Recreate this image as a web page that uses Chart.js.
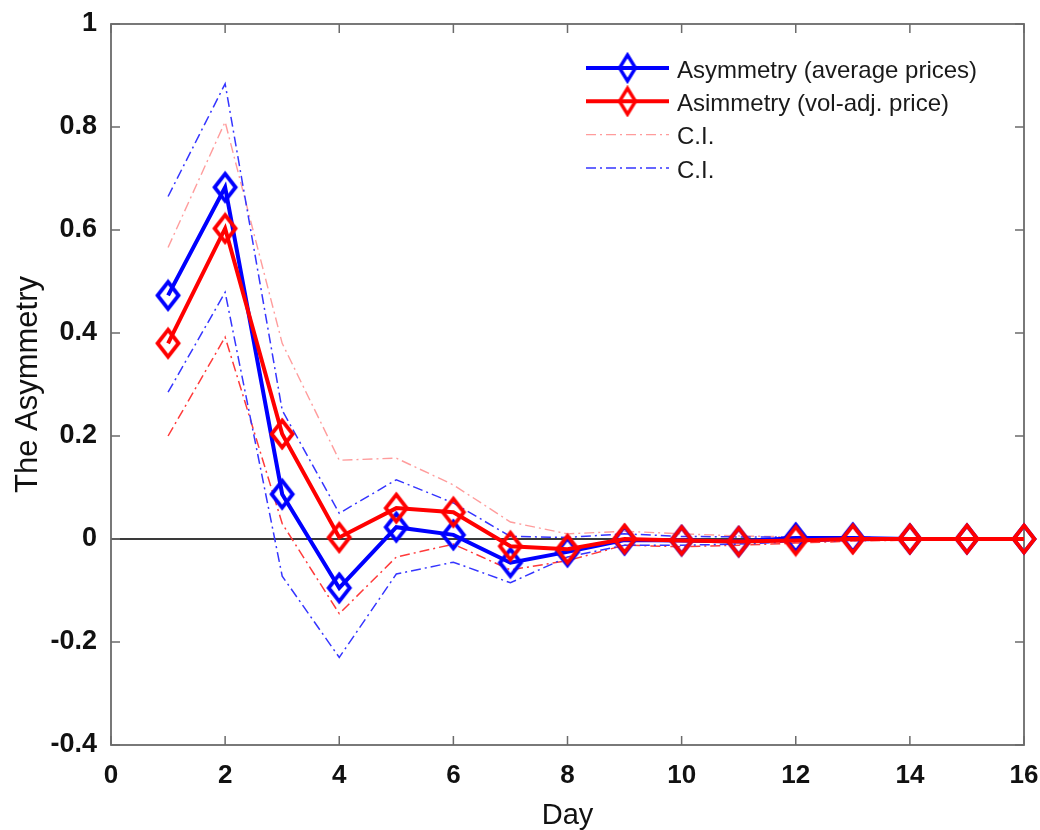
<!DOCTYPE html>
<html>
<head>
<meta charset="utf-8">
<script src="https://cdn.jsdelivr.net/npm/chart.js@4.4.1/dist/chart.umd.min.js"></script>
<style>
  body { margin: 0; background: #fff; }
  #wrap { width: 1040px; height: 830px; }
</style>
</head>
<body>
<div id="wrap"><canvas id="chart" width="1040" height="830"></canvas></div>
<script>
// Data
const days = [1, 2, 3, 4, 5, 6, 7, 8, 9, 10, 11, 12, 13, 14, 15, 16];
const asymAvg = [0.473, 0.683, 0.087, -0.095, 0.023, 0.008, -0.046, -0.025, -0.002, -0.003, -0.005, 0.002, 0.002, 0, 0, 0];
const asymVol = [0.38, 0.603, 0.204, 0.003, 0.06, 0.052, -0.014, -0.02, 0, -0.003, -0.005, -0.003, 0, 0, 0, 0];
const ciAvgUpper = [0.665, 0.884, 0.25, 0.05, 0.115, 0.07, 0.005, 0.003, 0.01, 0.005, 0.004, 0.004, 0.003, 0.002, 0.001, 0];
const ciAvgLower = [0.285, 0.479, -0.072, -0.23, -0.068, -0.045, -0.085, -0.035, -0.012, -0.012, -0.01, -0.005, -0.003, -0.002, -0.001, 0];
const ciVolUpper = [0.566, 0.81, 0.38, 0.153, 0.157, 0.105, 0.033, 0.01, 0.015, 0.01, 0.006, 0.004, 0.003, 0.002, 0.001, 0];
const ciVolLower = [0.2, 0.392, 0.03, -0.145, -0.035, -0.01, -0.06, -0.042, -0.012, -0.015, -0.012, -0.008, -0.004, -0.002, -0.001, 0];
const seriesNames = ['Asymmetry (average prices)', 'Asimmetry (vol-adj. price)', 'C.I.', 'C.I.'];
const xTicks = [0, 2, 4, 6, 8, 10, 12, 14, 16];
const yTicks = [-0.4, -0.2, 0, 0.2, 0.4, 0.6, 0.8, 1];

const BLUE = '#0000ff';
const RED = '#ff0000';
const DASHDOT = [10, 4, 2, 4];
const FONT = '"Liberation Sans", Arial, sans-serif';

// diamond marker drawn on a small canvas (taller than wide, like the original)
function diamond(color, w, h, lw) {
  const c = document.createElement('canvas');
  c.width = w + lw * 2;
  c.height = h + lw * 2;
  const g = c.getContext('2d');
  const cx = c.width / 2, cy = c.height / 2;
  g.strokeStyle = color;
  g.lineWidth = lw;
  g.lineJoin = 'miter';
  g.beginPath();
  g.moveTo(cx, cy - h / 2);
  g.lineTo(cx + w / 2, cy);
  g.lineTo(cx, cy + h / 2);
  g.lineTo(cx - w / 2, cy);
  g.closePath();
  g.stroke();
  return c;
}

const pts = vals => days.map((d, i) => ({ x: d, y: vals[i] }));

const datasets = [
  { label: seriesNames[0], data: pts(asymAvg), borderColor: BLUE, borderWidth: 4,
    pointStyle: diamond(BLUE, 21, 27, 3.8), pointRadius: 12, order: 1,
    legendMarker: diamond(BLUE, 16, 26, 3.4) },
  { label: seriesNames[1], data: pts(asymVol), borderColor: RED, borderWidth: 4,
    pointStyle: diamond(RED, 21, 27, 3.8), pointRadius: 12, order: 0,
    legendMarker: diamond(RED, 16, 26, 3.4) },
  { label: seriesNames[2], data: pts(ciVolUpper), borderColor: 'rgba(255,90,90,0.6)', borderWidth: 1.4,
    borderDash: DASHDOT, pointRadius: 0, order: 3 },
  { label: seriesNames[3], data: pts(ciAvgUpper), borderColor: '#3535ff', borderWidth: 1.5,
    borderDash: DASHDOT, pointRadius: 0, order: 2 },
  { label: '', data: pts(ciVolLower), borderColor: '#ff3a3a', borderWidth: 1.5,
    borderDash: DASHDOT, pointRadius: 0, order: 3, noLegend: true },
  { label: '', data: pts(ciAvgLower), borderColor: '#3535ff', borderWidth: 1.5,
    borderDash: DASHDOT, pointRadius: 0, order: 2, noLegend: true }
];
datasets.forEach(d => { d.fill = false; d.tension = 0; d.clip = false; });

// box around plot + inward ticks like MATLAB
const boxPlugin = {
  id: 'box',
  beforeDatasetsDraw(chart) {
    const { ctx, chartArea: a, scales } = chart;
    ctx.save();
    ctx.strokeStyle = '#6b6b6b';
    ctx.lineWidth = 1.8;
    ctx.strokeRect(a.left, a.top, a.right - a.left, a.bottom - a.top);
    ctx.lineWidth = 1.5;
    ctx.beginPath();
    xTicks.forEach(v => {
      const x = scales.x.getPixelForValue(v);
      ctx.moveTo(x, a.bottom); ctx.lineTo(x, a.bottom - 9);
      ctx.moveTo(x, a.top); ctx.lineTo(x, a.top + 9);
    });
    yTicks.forEach(v => {
      const y = scales.y.getPixelForValue(v);
      ctx.moveTo(a.left, y); ctx.lineTo(a.left + 9, y);
      ctx.moveTo(a.right, y); ctx.lineTo(a.right - 9, y);
    });
    ctx.stroke();
    ctx.restore();
  }
};

// legend in the upper right, line sample + marker + text
const legendPlugin = {
  id: 'ownLegend',
  afterDraw(chart) {
    const ctx = chart.ctx;
    const x0 = 586, x1 = 669, tx = 677;
    let y = 68;
    ctx.save();
    ctx.font = '24px ' + FONT;
    ctx.textBaseline = 'middle';
    chart.data.datasets.filter(d => !d.noLegend).forEach(d => {
      ctx.strokeStyle = d.borderColor;
      ctx.lineWidth = d.borderWidth;
      ctx.setLineDash(d.borderDash || []);
      ctx.beginPath();
      ctx.moveTo(x0, y); ctx.lineTo(x1, y);
      ctx.stroke();
      ctx.setLineDash([]);
      if (d.legendMarker) {
        const m = d.legendMarker;
        ctx.drawImage(m, (x0 + x1) / 2 - m.width / 2, y - m.height / 2);
      }
      ctx.fillStyle = '#1a1a1a';
      ctx.fillText(d.label, tx, y + 3);
      y += 33.3;
    });
    ctx.restore();
  }
};

new Chart(document.getElementById('chart').getContext('2d'), {
  type: 'line',
  data: { datasets },
  options: {
    responsive: false,
    animation: false,
    events: [],
    layout: { padding: { top: 24, right: 15, left: 0, bottom: 0 } },
    plugins: { legend: { display: false }, tooltip: { enabled: false } },
    scales: {
      x: {
        type: 'linear', min: 0, max: 16,
        afterFit: s => { s.height = 85; s.paddingLeft = 0; s.paddingRight = 0; },
        afterBuildTicks: s => { s.ticks = xTicks.map(v => ({ value: v })); },
        grid: { display: false, drawTicks: false },
        border: { display: false },
        ticks: { color: '#111', padding: 15, maxRotation: 0,
          font: { family: FONT, size: 26, weight: 'bold' } },
        title: { display: true, text: 'Day', color: '#111', padding: { top: 0, bottom: -3 },
          font: { family: FONT, size: 29 } }
      },
      y: {
        type: 'linear', min: -0.4, max: 1,
        afterFit: s => { s.width = 111; s.paddingTop = 0; s.paddingBottom = 0; },
        afterBuildTicks: s => { s.ticks = yTicks.map(v => ({ value: v })); },
        grid: {
          drawTicks: false,
          color: c => (c.tick && Math.abs(c.tick.value) < 1e-9 ? '#3a3a3a' : 'rgba(0,0,0,0)'),
          lineWidth: 2
        },
        border: { display: false },
        ticks: { color: '#111', padding: 14,
          callback: v => String(Math.round(v * 10) / 10),
          font: { family: FONT, size: 27, weight: 'bold' } },
        title: { display: true, text: 'The Asymmetry', color: '#111', padding: { top: 10, bottom: 0 },
          font: { family: FONT, size: 31 } }
      }
    }
  },
  plugins: [boxPlugin, legendPlugin]
});
</script>
</body>
</html>
